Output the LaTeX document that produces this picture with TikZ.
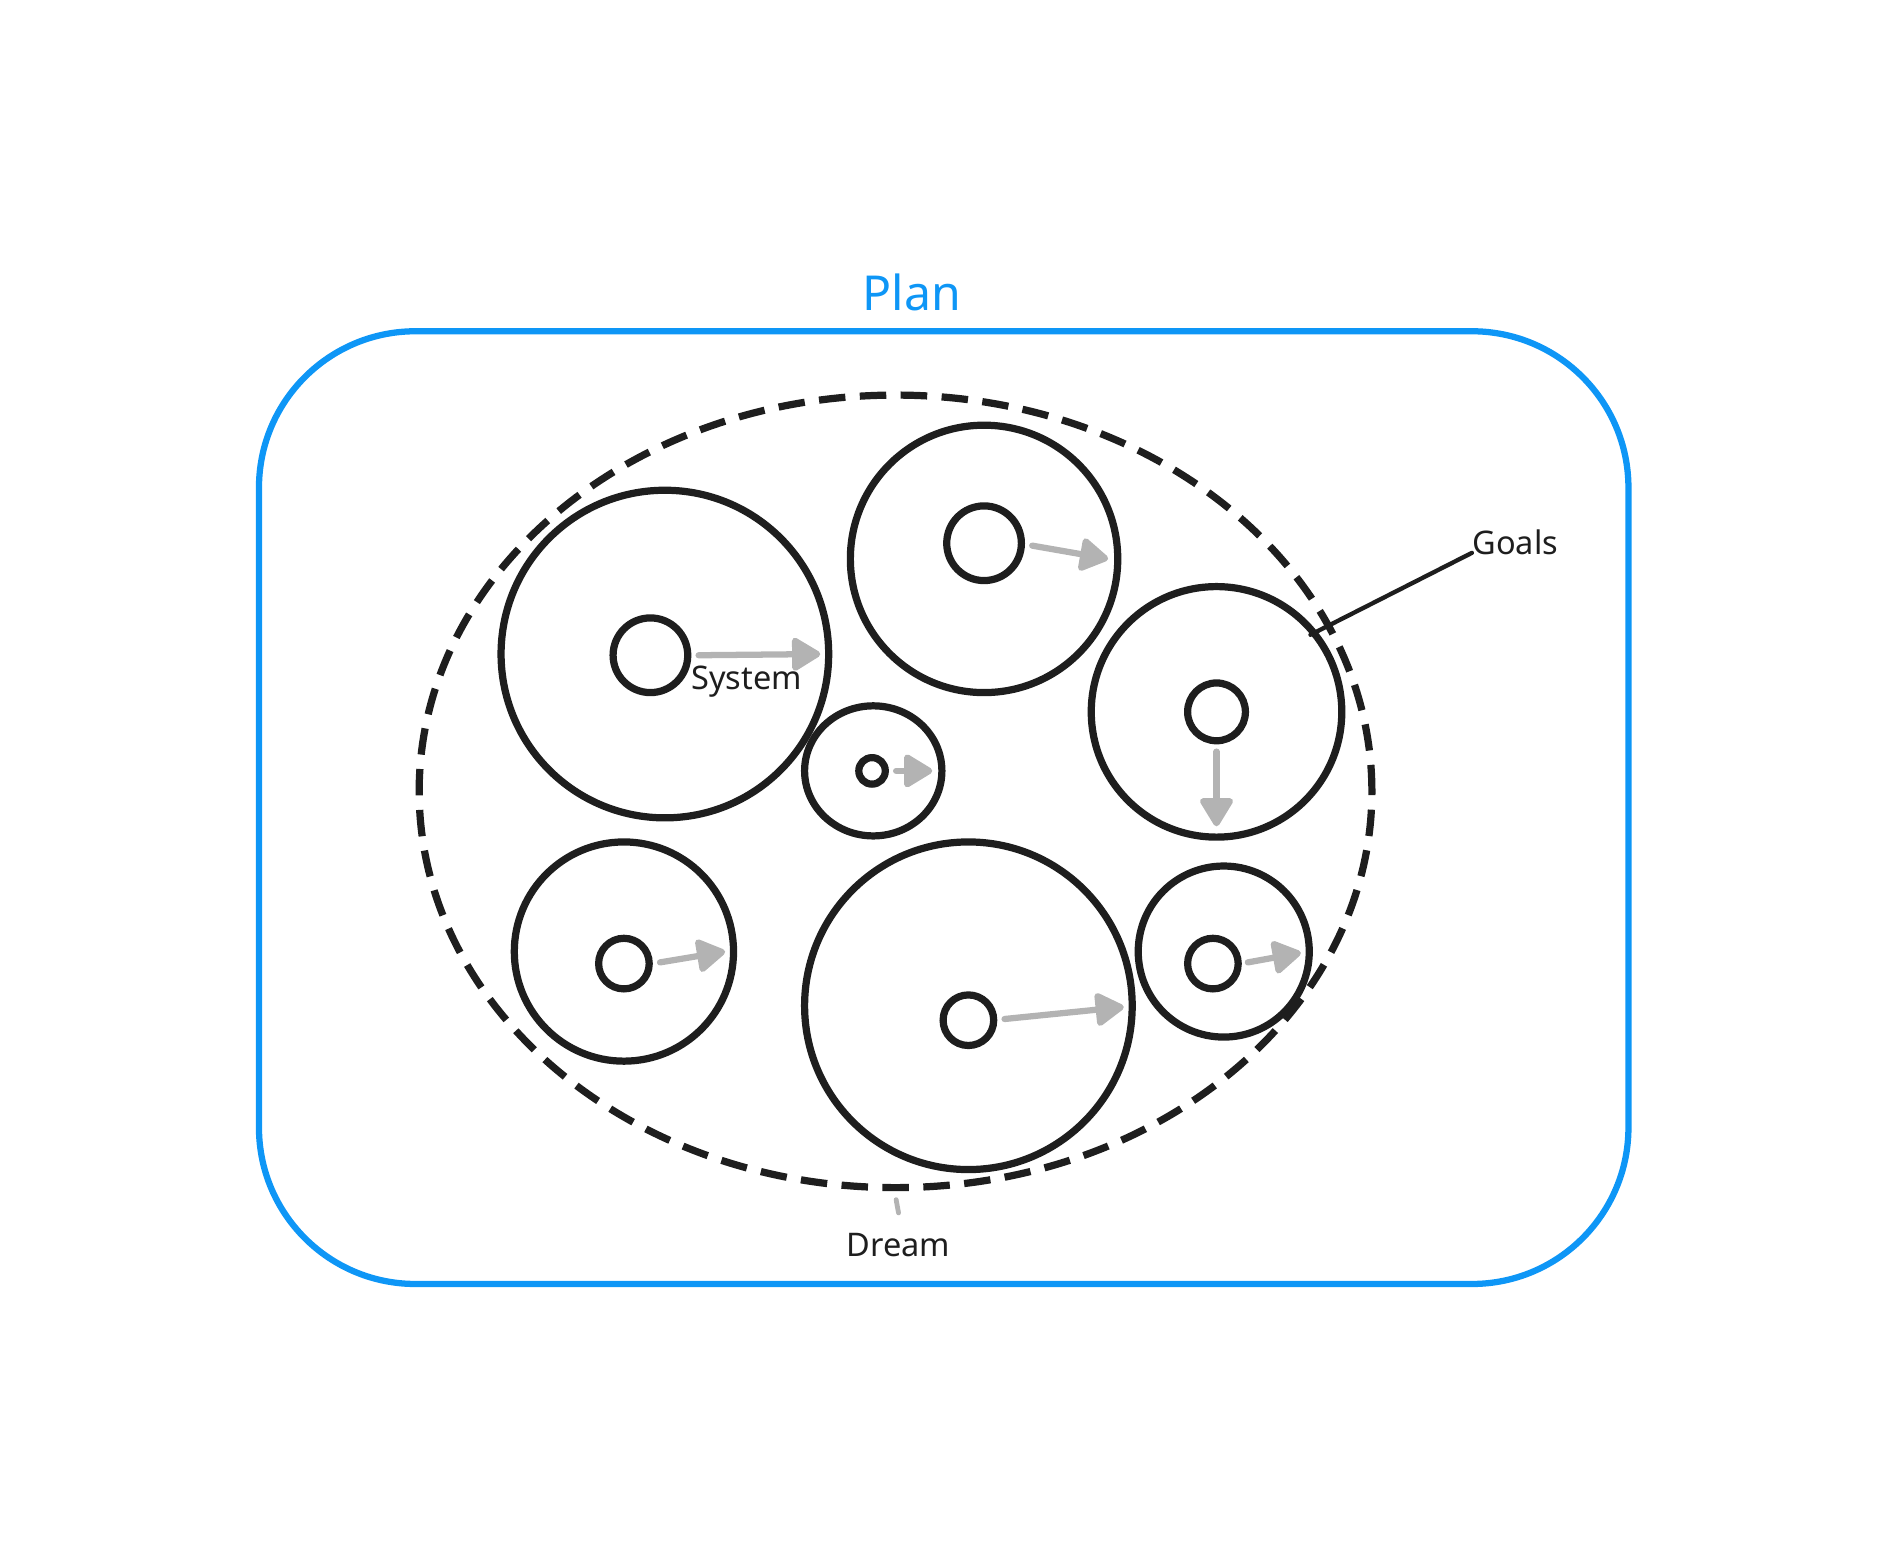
\documentclass[tikz,border=0pt]{standalone}
\usepackage{fontspec}
\setmainfont{Noto Sans}
\usetikzlibrary{arrows.meta,shapes.geometric}
\definecolor{planblue}{RGB}{14,150,246}
\definecolor{ink}{RGB}{30,30,30}
\definecolor{gr}{RGB}{179,179,179}
\begin{document}
\begin{tikzpicture}[x=0.5pt,y=-0.5pt,
  gear/.style={circle,draw=ink,line width=3pt,inner sep=0pt,minimum size=#1pt},
  garrow/.style={draw=gr,line width=2.6pt,line cap=round,-{Triangle[length=13pt,width=15pt,round]}},
  lbl/.style={font=\fontsize{13.5}{16}\selectfont,text=ink,inner sep=0pt}]
\useasboundingbox (0,0) rectangle (1567.5,1281.9);
% plan box
\node[draw=planblue,line width=2.6pt,rounded corners=65pt,minimum width=568.5pt,minimum height=395.5pt,inner sep=0pt] (plan) at (783.5,670.5) {};
\node[text=planblue,font=\fontsize{20}{24}\selectfont,inner sep=0pt] (plantxt) at (757,243) {Plan};
% dream ellipse
\node[ellipse,draw=ink,line width=3pt,dash pattern=on 11pt off 6pt,minimum width=395.5pt,minimum height=329pt,inner sep=0pt] (dream) at (743.5,657) {};
% outer gears
\node[gear=136] (o1) at (552,543) {};
\node[gear=111] (o2) at (817,464) {};
\node[gear=104] (o3) at (1010,591) {};
\node[ellipse,draw=ink,line width=3pt,inner sep=0pt,minimum width=57pt,minimum height=54pt] (o4) at (725,640) {};
\node[gear=91] (o5) at (518,790) {};
\node[gear=136] (o6) at (804,835) {};
\node[gear=71] (o7) at (1016,790) {};
% inner gears
\node[gear=31] (i1) at (540,544) {};
\node[gear=31] (i2) at (817,451) {};
\node[gear=24] (i3) at (1010,591) {};
\node[gear=11] (i4) at (724,640) {};
\node[gear=21] (i5) at (518,800) {};
\node[gear=21] (i6) at (804,847) {};
\node[gear=21] (i7) at (1007,800) {};
% arrows
\coordinate (a1s) at (580,544); \coordinate (a1e) at (681,543);
\coordinate (a2s) at (857,453); \coordinate (a2e) at (920,464);
\coordinate (a3s) at (1010,624); \coordinate (a3e) at (1010,686);
\coordinate (a4s) at (744,640); \coordinate (a4e) at (774,640);
\coordinate (a5s) at (548,799); \coordinate (a5e) at (602,790);
\coordinate (a6s) at (834,846); \coordinate (a6e) at (933,836);
\coordinate (a7s) at (1036,799); \coordinate (a7e) at (1080,791);
\draw[garrow] (a1s) -- (a1e);
\draw[garrow] (a2s) -- (a2e);
\draw[garrow] (a3s) -- (a3e);
\draw[garrow] (a4s) -- (a4e);
\draw[garrow] (a5s) -- (a5e);
\draw[garrow] (a6s) -- (a6e);
\draw[garrow] (a7s) -- (a7e);
% labels
\node[lbl] (system) at (620,566) {System};
\node[lbl] (goals) at (1258,450) {Goals};
\node[lbl] (dreamtxt) at (746,1034) {Dream};
\coordinate (gs) at (1222,459); \coordinate (ge) at (1088,527);
\draw[ink,line width=1.8pt,line cap=round] (gs) -- (ge);
\coordinate (ds) at (744,996); \coordinate (de) at (746,1007);
\draw[gr,line width=2pt,line cap=round] (ds) -- (de);
\end{tikzpicture}
\end{document}
